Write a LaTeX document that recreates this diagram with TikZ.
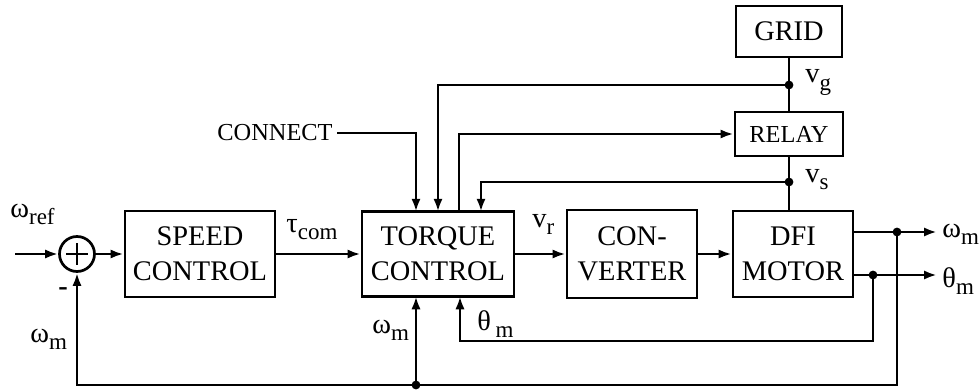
\documentclass[tikz,border=0pt]{standalone}
\usepackage{fontspec}
\setmainfont{Liberation Serif}
\usetikzlibrary{arrows.meta}
\newcommand{\sig}[2]{#1\raisebox{-0.55ex}{\fontsize{11.5}{12}\selectfont #2}}

\begin{document}
\begin{tikzpicture}[
  x=0.5pt,
  y=-0.5pt,
  font=\fontsize{14.2}{17.5}\selectfont,
  block/.style={draw=black,line width=1.45pt,inner sep=0pt,align=center},
  smalltext/.style={font=\fontsize{12.2}{14}\selectfont},
  sumnode/.style={draw=black,line width=1.35pt,circle,inner sep=0pt,minimum size=17.5pt},
  wire/.style={draw=black,line width=1.35pt},
  signal/.style={wire,-{Latex[length=6.5pt,width=4.6pt]}},
  sigtext/.style={anchor=base west,inner sep=0pt}
]
  \useasboundingbox (0,0) rectangle (979,390);

  % Blocks of the drive chain.
  \node[sumnode] (sum) at (77,254) {};
  \node[block,minimum width=75pt,minimum height=43pt] (speed) at (200,254) {SPEED\\CONTROL};
  \node[block,minimum width=76pt,minimum height=42.5pt] (torque) at (438,254) {TORQUE\\CONTROL};
  \node[block,minimum width=65pt,minimum height=44pt] (conv) at (632,254) {CON-\\VERTER};
  \node[block,minimum width=60pt,minimum height=43pt] (dfi) at (793,254) {DFI\\MOTOR};
  \node[block,smalltext,minimum width=54pt,minimum height=22pt] (relay) at (789,134) {RELAY};
  \node[block,minimum width=53pt,minimum height=25.5pt] (grid) at (789,31.5) {GRID};
  \node[smalltext,anchor=east,inner sep=2pt] (connect) at (337,133) {CONNECT};

  % Plus sign inside the summing junction.
  \draw[wire] (sum) ++(-11,0) -- ++(22,0);
  \draw[wire] (sum) ++(0,-11) -- ++(0,22);

  % Taps, ports and bends.
  \coordinate (in) at (15,254);
  \coordinate (vg) at (789,85);
  \coordinate (vs) at (789,182);
  \coordinate (tq1) at (416,211.75);
  \coordinate (tq2) at (438,211.75);
  \coordinate (tq3) at (459,211.75);
  \coordinate (tq4) at (481,211.75);
  \coordinate (tb1) at (416,296.25);
  \coordinate (tb2) at (460,296.25);
  \coordinate (dw) at (853,232);
  \coordinate (dth) at (853,275);
  \coordinate (jw) at (897,232);
  \coordinate (jth) at (873,275);
  \coordinate (ow) at (937,232);
  \coordinate (oth) at (937,275);
  \coordinate (thbend) at (460,341);
  \coordinate (wbend) at (897,385);
  \coordinate (jwb) at (416,385);

  % Forward path.
  \draw[signal] (in) -- (sum.west);
  \draw[signal] (sum.east) -- (speed.west);
  \draw[signal] (speed.east) -- (torque.west);
  \draw[signal] (torque.east) -- (conv.west);
  \draw[signal] (conv.east) -- (dfi.west);
  \draw[wire] (grid.south) -- (relay.north);
  \draw[wire] (relay.south) -- (relay.south |- dfi.north);

  % Inputs on top of the torque controller.
  \draw[signal] (connect.east) -| (tq1);
  \draw[signal] (vg) -| (tq2);
  \draw[signal] (tq3) |- (relay.west);
  \draw[signal] (vs) -| (tq4);

  % Motor outputs and feedback.
  \draw[signal] (dw) -- (ow);
  \draw[signal] (dth) -- (oth);
  \draw[signal] (jth) |- (thbend) -- (tb2);
  \draw[signal] (jw) -- (wbend) -| (sum.south);
  \draw[signal] (jwb) -- (tb1);

  \foreach \p in {vg,vs,jw,jth,jwb} {
    \fill[black] (\p) circle[radius=2.2pt];
  }

  % Signal names.
  \node[sigtext] (lwref) at (10,217) {\sig{ω}{ref}};
  \node[inner sep=0pt] (lminus) at (63,292) {\textbf{-}};
  \node[sigtext] (lwm1) at (30,342) {\sig{ω}{m}};
  \node[sigtext] (ltau) at (286,232) {\sig{τ}{com}};
  \node[sigtext] (lvr) at (532,227) {\sig{v}{r}};
  \node[sigtext] (lwm2) at (372,333) {\sig{ω}{m}};
  \node[sigtext] (lthm) at (477,330) {\sig{θ\,}{m}};
  \node[sigtext] (lvg) at (805,83) {\sig{v}{g}};
  \node[sigtext] (lvs) at (805,182) {\sig{v}{s}};
  \node[sigtext] (lwm3) at (942,237) {\sig{ω}{m}};
  \node[sigtext] (lthm2) at (942,287) {\sig{θ}{m}};
\end{tikzpicture}
\end{document}
